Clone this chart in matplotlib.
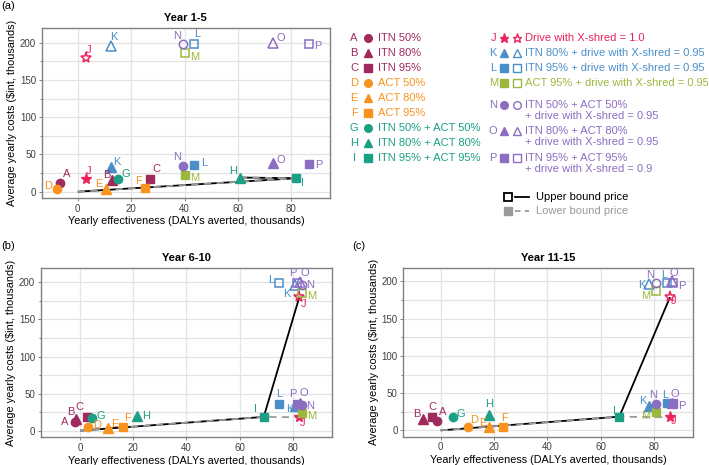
import matplotlib
matplotlib.use('Agg')
import matplotlib.pyplot as plt
from matplotlib.lines import Line2D
from matplotlib.ticker import MultipleLocator
import numpy as np

plt.rcParams['font.family'] = ['Liberation Sans', 'DejaVu Sans']

# ---------------- data ----------------
letters = list('ABCDEFGHIJKLMNOP')
nan = np.nan

# Year 1-5
eff_y1_5 = [-6.6, 13.0, 27.2, -7.6, 10.5, 25.2, 15.0, 60.7, 81.6, 3.0, 12.5, 43.6, 40.2, 39.3, 73.0, 86.5]
cost_lo_y1_5 = [11.6, 15.0, 17.0, 4.0, 4.0, 4.5, 16.6, 19.0, 18.0, 17.0, 33.0, 36.0, 23.0, 35.0, 38.0, 36.5]
cost_hi_y1_5 = [nan] * 9 + [179, 196, 198, 186, 198, 200, 198]

# Year 6-10
eff_y6_10 = [-2.0, -1.6, 2.4, 2.8, 10.6, 16.0, 4.6, 21.5, 69.1, 82.5, 81.0, 75.0, 83.4, 83.4, 82.8, 81.5]
cost_lo_y6_10 = [12.0, 15.7, 18.0, 5.0, 4.0, 5.0, 17.0, 20.0, 18.5, 18.0, 33.0, 36.0, 24.0, 35.0, 37.0, 36.0]
cost_hi_y6_10 = [nan] * 9 + [180, 196, 198.5, 186, 197, 200, 198.5]

# Year 11-15
eff_y11_15 = [-1.5, -6.5, -3.1, 10.4, 18.3, 23.3, 4.75, 18.3, 67.0, 86.0, 78.3, 84.8, 80.6, 80.6, 86.8, 87.3]
cost_lo_y11_15 = [12.0, 15.0, 18.0, 5.0, 4.0, 5.0, 17.5, 20.0, 18.4, 17.5, 33.0, 36.4, 24.0, 35.5, 37.0, 36.4]
cost_hi_y11_15 = [nan] * 9 + [179, 196, 198, 186.5, 198, 200, 198]

# frontier paths ('0' = origin)
front_y1_5 = [['0', 'I'], ['H', 'I']]
front_y6_10 = [['0', 'I', 'J']]
front_y11_15 = [['0', 'I', 'J']]

legend_left = ['ITN 50%', 'ITN 80%', 'ITN 95%', 'ACT 50%', 'ACT 80%', 'ACT 95%',
               'ITN 50% + ACT 50%', 'ITN 80% + ACT 80%', 'ITN 95% + ACT 95%']
legend_right = [['Drive with X-shred = 1.0'],
                ['ITN 80% + drive with X-shred = 0.95'],
                ['ITN 95% + drive with X-shred = 0.95'],
                ['ACT 95% + drive with X-shred = 0.95'],
                ['ITN 50% + ACT 50%', '+ drive with X-shred = 0.95'],
                ['ITN 80% + ACT 80%', '+ drive with X-shred = 0.95'],
                ['ITN 95% + ACT 95%', '+ drive with X-shred = 0.9']]

# ---------------- styles ----------------
MAROON = '#A02A5E'
ORANGE = '#F7931E'
TEAL = '#1BA085'
PINK = '#E8245C'
BLUE = '#4A8FCA'
GREEN = '#9CB83C'
PURPLE = '#8B6DC2'
colors = [MAROON] * 3 + [ORANGE] * 3 + [TEAL] * 3 + [PINK, BLUE, BLUE, GREEN, PURPLE, PURPLE, PURPLE]
markers = ['o', '^', 's', 'o', '^', 's', 'o', '^', 's', '*', '^', 's', 's', 'o', '^', 's']
msize = {'o': 6.0, '^': 6.5, 's': 5.9, '*': 8.0}
msize_leg = {'o': 5.5, '^': 6.0, 's': 5.3, '*': 6.5}

# label offsets (pixels)
off_a_lo = {'A': (7, 9), 'B': (-6, 5), 'C': (6, 10), 'D': (-9, 3), 'E': (-7, 5), 'F': (-7, 7),
            'G': (8, 5), 'H': (-7, 7), 'I': (7, -5), 'J': (3, 8), 'K': (6, 5), 'L': (10, 2),
            'M': (10, -3), 'N': (-6, 9), 'O': (8, 3), 'P': (10, -1)}
off_a_hi = {'J': (3, 8), 'K': (3, 9), 'L': (3, 10), 'M': (10, -4), 'N': (-6, 8), 'O': (8, 5), 'P': (9, -2)}
off_b_lo = {'A': (-10, 0), 'B': (-5, 7), 'C': (-7, 10), 'D': (9, 2), 'E': (6, 4), 'F': (5, 9),
            'G': (8, 2), 'H': (9, 0), 'I': (-8, 8), 'J': (3, -6), 'K': (-6, -3), 'L': (0, 10),
            'M': (10, -3), 'N': (8, -1), 'O': (4, 10), 'P': (-4, 10)}
off_b_hi = {'J': (4, -7), 'K': (-9, -9), 'L': (-8, 3), 'M': (10, -3), 'N': (8, 0), 'O': (5, 9), 'P': (-4, 10)}
off_c_lo = {'A': (6, 9), 'B': (-6, 5), 'C': (0, 10), 'D': (6, 7), 'E': (-7, 4), 'F': (2, 9),
            'G': (8, 3), 'H': (0, 11), 'I': (-5, 6), 'J': (4, -4), 'K': (-7, 5), 'L': (-2, 8),
            'M': (-10, -4), 'N': (-2, 9), 'O': (3, 9), 'P': (8, -3)}
off_c_hi = {'J': (4, -4), 'K': (-8, -1), 'L': (-3, 8), 'M': (-10, -5), 'N': (-5, 8), 'O': (2, 8), 'P': (8, -3)}

W, H = 709, 465
fig = plt.figure(figsize=(W / 100, H / 100), dpi=100)


def ax_rect(l, r, t, b):
    return [l / W, 1 - b / H, (r - l) / W, (b - t) / H]


def path_xy(path, eff, cost):
    xs, ys = [], []
    for p in path:
        if p == '0':
            xs.append(0.0); ys.append(0.0)
        else:
            i = letters.index(p)
            xs.append(eff[i]); ys.append(cost[i])
    return xs, ys


def draw_panel(rect, eff, lo, hi, fronts, off_lo, off_hi, title, xlim, ylim):
    ax = fig.add_axes(rect)
    ax.set_xlim(*xlim)
    ax.set_ylim(*ylim)
    ax.set_xticks([0, 20, 40, 60, 80])
    ax.set_yticks([0, 50, 100, 150, 200])
    ax.yaxis.set_minor_locator(MultipleLocator(25))
    ax.grid(True, which='major', color='#E3E3E3', lw=0.9, zorder=0)
    ax.grid(True, which='minor', axis='y', color='#E3E3E3', lw=0.9, zorder=0)
    ax.set_axisbelow(True)
    for s in ax.spines.values():
        s.set_color('#808080')
        s.set_linewidth(1.0)
    ax.tick_params(which='major', length=2.5, width=0.7, color='#808080', labelsize=7,
                   labelcolor='#404040', pad=1.5)
    ax.tick_params(which='minor', length=1.5, width=0.7, color='#808080')
    ax.set_xlabel('Yearly effectiveness (DALYs averted, thousands)', fontsize=7.8, labelpad=2)
    ax.set_ylabel('Average yearly costs ($int, thousands)', fontsize=7.8, labelpad=2)
    ax.set_title(title, fontsize=8, fontweight='bold', pad=5)

    hi_full = [h if not np.isnan(h) else l for h, l in zip(hi, lo)]
    for path in fronts:
        xs, ys = path_xy(path, eff, hi_full)
        ax.plot(xs, ys, color='black', lw=1.3, zorder=2, solid_capstyle='butt')
        xs, ys = path_xy(path, eff, lo)
        ax.plot(xs, ys, color='#9A9A9A', lw=1.3, ls=(0, (4, 3)), zorder=2.1)

    for i, L in enumerate(letters):
        m = markers[i]
        c = colors[i]
        ax.plot(eff[i], lo[i], marker=m, ms=msize[m], color=c, mec=c, mfc=c, ls='none', zorder=3)
        dx, dy = off_lo[L]
        ax.annotate(L, (eff[i], lo[i]), xytext=(dx, dy), textcoords='offset pixels',
                    ha='center', va='center', color=c, fontsize=8, zorder=4)
        if not np.isnan(hi[i]):
            ax.plot(eff[i], hi[i], marker=m, ms=msize[m], color=c, mec=c, mfc='none',
                    mew=1.1, ls='none', zorder=3)
            dx, dy = off_hi[L]
            ax.annotate(L, (eff[i], hi[i]), xytext=(dx, dy), textcoords='offset pixels',
                        ha='center', va='center', color=c, fontsize=8, zorder=4)
    return ax


draw_panel(ax_rect(41.7, 330, 28, 198), eff_y1_5, cost_lo_y1_5, cost_hi_y1_5, front_y1_5,
           off_a_lo, off_a_hi, 'Year 1-5', (-13.5, 94.5), (-8.5, 219.7))
draw_panel(ax_rect(40.7, 331.7, 267.7, 437.3), eff_y6_10, cost_lo_y6_10, cost_hi_y6_10, front_y6_10,
           off_b_lo, off_b_hi, 'Year 6-10', (-14.9, 94.7), (-9, 219.8))
draw_panel(ax_rect(403.3, 692.7, 267.7, 436.7), eff_y11_15, cost_lo_y11_15, cost_hi_y11_15, front_y11_15,
           off_c_lo, off_c_hi, 'Year 11-15', (-14, 94.5), (-8.5, 218.4))

# panel tags
fig.text(1 / W, 1 - 6 / H, '(a)', fontsize=8, va='center', ha='left')
fig.text(1 / W, 1 - 246 / H, '(b)', fontsize=8, va='center', ha='left')
fig.text(352 / W, 1 - 246 / H, '(c)', fontsize=8, va='center', ha='left')


def fx(px):
    return px / W


def fy(py):
    return 1 - py / H


def fig_marker(px, py, m, c, filled=True):
    fig.add_artist(Line2D([fx(px)], [fy(py)], transform=fig.transFigure, marker=m,
                          ms=msize_leg[m], color=c, mec=c,
                          mfc=c if filled else 'none', mew=1.0, ls='none'))


# left legend column
for i in range(9):
    py = 37.7 + 15 * i
    fig.text(fx(354), fy(py), letters[i], color=colors[i], fontsize=8, ha='center', va='center')
    fig_marker(368, py, markers[i], colors[i])
    fig.text(fx(377.7), fy(py), legend_left[i], color=colors[i], fontsize=8, ha='left', va='center')

# right legend column
right_rows = [37.7, 52.7, 67.7, 82.7, 105, 131, 157.7]
for k, py in enumerate(right_rows):
    i = 9 + k
    c = colors[i]
    m = markers[i]
    fig.text(fx(493.3), fy(py), letters[i], color=c, fontsize=8, ha='center', va='center')
    fig_marker(504, py, m, c, True)
    fig_marker(516.7, py, m, c, False)
    for j, line in enumerate(legend_right[k]):
        fig.text(fx(525), fy(py + 11.3 * j), line, color=c, fontsize=8, ha='left', va='center')

# bound legend
fig.add_artist(Line2D([fx(507.7)], [fy(196.7)], transform=fig.transFigure, marker='s', ms=5.5,
                      mec='black', mfc='none', mew=1.3, ls='none'))
fig.add_artist(Line2D([fx(515), fx(529)], [fy(196.7), fy(196.7)], transform=fig.transFigure,
                      color='black', lw=1.3))
fig.text(fx(535.7), fy(196.7), 'Upper bound price', fontsize=8, color='black', ha='left', va='center')
fig.add_artist(Line2D([fx(507.7)], [fy(210.7)], transform=fig.transFigure, marker='s', ms=5.5,
                      mec='#9A9A9A', mfc='#9A9A9A', ls='none'))
fig.add_artist(Line2D([fx(515), fx(529)], [fy(210.7), fy(210.7)], transform=fig.transFigure,
                      color='#9A9A9A', lw=1.3, ls=(0, (3, 2.5))))
fig.text(fx(535.7), fy(210.7), 'Lower bound price', fontsize=8, color='#9A9A9A', ha='left', va='center')

fig.savefig('out.png', dpi=100)
